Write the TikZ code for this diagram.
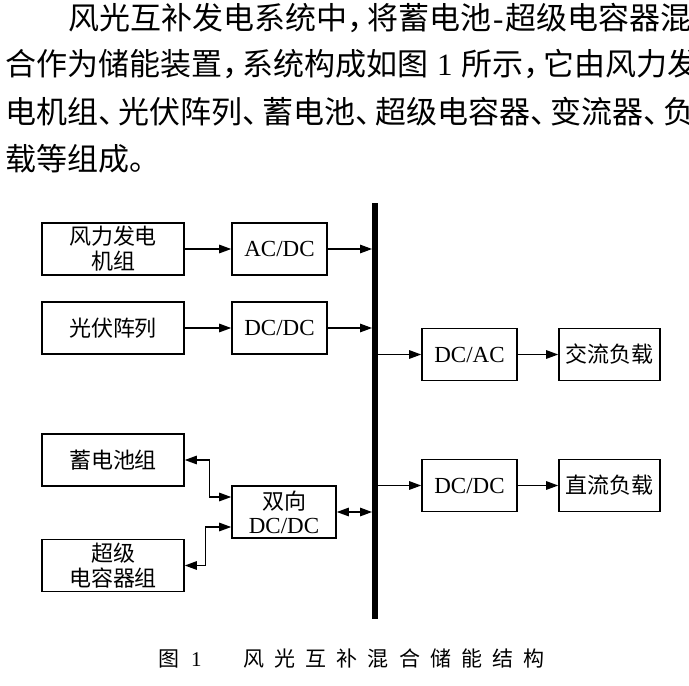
\documentclass[tikz,border=0pt]{standalone}
\usepackage{fontspec}
\setmainfont{Liberation Serif}
\usetikzlibrary{arrows.meta,positioning}
\newfontfamily\cjk{Noto Sans CJK SC}
\newfontfamily\capcjk[LetterSpace=48]{Noto Sans CJK SC}
\newcommand{\cm}{\makebox[20pt][l]{，}}
\newcommand{\dn}{\makebox[20pt][l]{、}}
\newcommand{\dsh}{\makebox[14pt][c]{\rmfamily -}}
\tikzset{
  para/.style={anchor=base west, inner sep=0pt, font=\cjk\fontsize{31}{36}\selectfont},
  blk/.style={
    draw, line width=1.6pt, minimum height=52pt,
    inner sep=0pt, align=center,
    font=\cjk\fontsize{22}{25}\selectfont
  },
  src/.style ={blk, minimum width=142pt},
  conv/.style={blk, minimum width=95pt, font=\rmfamily\fontsize{23}{24}\selectfont},
  load/.style={blk, minimum width=101pt},
  bus/.style={fill=black, draw=none, inner sep=0pt, minimum width=5.5pt, minimum height=416pt},
  flow/.style={-{Triangle[length=12pt,width=8.5pt]}, line width=1.3pt},
  biflow/.style={{Triangle[length=12pt,width=8.5pt]}-{Triangle[length=12pt,width=8.5pt]}, line width=1.3pt}
}
\begin{document}
\begin{tikzpicture}[x=1pt,y=-1pt]
  \useasboundingbox (0,0) rectangle (689,686);
  % body text
  \node[para] (line1) at (68,29) {风光互补发电系统中\cm 将蓄电池\dsh 超级电容器混};
  \node[para] (line2) at (5,75) {合作为储能装置\cm 系统构成如图\hspace{9pt}{\rmfamily 1}\hspace{9pt}所示\cm 它由风力发};
  \node[para] (line3) at (5,123) {电机组\dn 光伏阵列\dn 蓄电池\dn 超级电容器\dn 变流器\dn 负};
  \node[para] (line4) at (5,170) {载等组成。};

  % sources and storage
  \node[src] (wind) at (113,249) {风力发电\\机组};
  \node[src] (pv)   at (113,328) {光伏阵列};
  \node[src] (bat)  at (113,460) {蓄电池组};
  \node[src] (sc)   at (113,565.5) {超级\\电容器组};

  % converters
  \node[conv] (acdc)  at (279.5,249) {AC/DC};
  \node[conv] (dcdc)  at (279.5,328) {DC/DC};
  \node[conv, minimum width=104pt] (bidir) at (284,512) {{\cjk\fontsize{22}{23}\selectfont 双向}\\DC/DC};
  \node[conv] (dcac)  at (469.5,354.5) {DC/AC};
  \node[conv] (dcdcb) at (469.5,485.5) {DC/DC};

  % loads
  \node[load] (acload) at (609.5,354.5) {交流负载};
  \node[load] (dcload) at (609.5,485.5) {直流负载};

  % bus
  \node[bus] (bus) at (375,410.5) {};

  \draw[flow] (wind) -- (acdc);
  \draw[flow] (acdc) -- (acdc -| bus.west);
  \draw[flow] (pv) -- (dcdc);
  \draw[flow] (dcdc) -- (dcdc -| bus.west);
  \draw[flow] (dcac -| bus.east) -- (dcac);
  \draw[flow] (dcac) -- (acload);
  \draw[flow] (dcdcb -| bus.east) -- (dcdcb);
  \draw[flow] (dcdcb) -- (dcload);
  \draw[biflow] (bidir) -- (bidir -| bus.west);
  \draw[biflow] (bat.east) -- ++(25,0) |- ([yshift=15pt]bidir.west);
  \draw[biflow] (sc.east) -- ++(21,0) |- ([yshift=-15pt]bidir.west);

  % caption
  \node[anchor=base west, inner sep=0pt, font=\fontsize{21}{24}\selectfont] (caption) at (158,666)
    {\capcjk 图\hspace{12pt}\rmfamily 1\hspace{42pt}\capcjk 风光互补混合储能结构};
\end{tikzpicture}
\end{document}
